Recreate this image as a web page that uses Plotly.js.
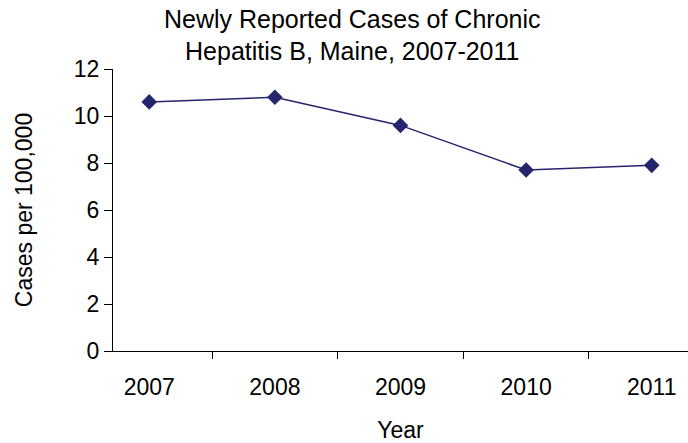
<!DOCTYPE html>
<html>
<head>
<meta charset="utf-8">
<script src="https://cdn.plot.ly/plotly-3.0.1.min.js"></script>
<style>html,body{margin:0;padding:0;background:#fff;}#chart{width:688px;height:443px;}</style>
</head>
<body>
<div id="chart"></div>
<script>
const years = ['2007', '2008', '2009', '2010', '2011'];
const casesPer100k = [10.6, 10.8, 9.6, 7.7, 7.9];
const yTicks = [0, 2, 4, 6, 8, 10, 12];

const trace = {
  x: years,
  y: casesPer100k,
  type: 'scatter',
  mode: 'lines+markers',
  line: {color: '#25256e', width: 1.5},
  marker: {symbol: 'diamond', size: 12, color: '#25256e'},
  hoverinfo: 'x+y'
};

const fam = 'Liberation Sans, Arial, sans-serif';
const tickFont = {family: fam, size: 23, color: '#000'};
const titleFont = {family: fam, size: 25, color: '#000'};

const layout = {
  width: 688, height: 443,
  margin: {l: 113, r: 0, t: 69, b: 92},
  paper_bgcolor: '#fff', plot_bgcolor: '#fff',
  font: tickFont,
  showlegend: false,
  title: {
    text: 'Newly Reported Cases of Chronic<br>Hepatitis B, Maine, 2007-2011',
    font: titleFont, x: 0.512, xanchor: 'center', yref: 'container', y: 0.937, yanchor: 'top'
  },
  xaxis: {
    type: 'category',
    tickson: 'boundaries',
    ticks: 'outside', ticklen: 7, tickwidth: 1, tickcolor: '#000',
    ticklabelstandoff: 15,
    showline: true, linecolor: '#000', linewidth: 1,
    showgrid: false, zeroline: false,
    tickfont: tickFont,
    title: {text: 'Year', font: tickFont, standoff: 24}
  },
  yaxis: {
    range: [0, 12],
    tickvals: yTicks,
    ticks: 'outside', ticklen: 8, tickwidth: 1, tickcolor: '#000',
    showline: true, linecolor: '#000', linewidth: 1,
    showgrid: false, zeroline: false,
    tickfont: tickFont,
    title: {text: 'Cases per 100,000', font: tickFont, standoff: 34}
  }
};

Plotly.newPlot('chart', [trace], layout, {displayModeBar: false, staticPlot: true});
</script>
</body>
</html>
